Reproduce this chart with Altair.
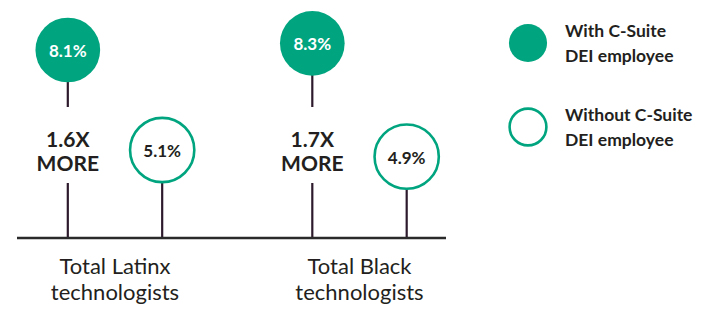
import altair as alt
import pandas as pd

# ---- data ----
groups = ["Total Latinx technologists", "Total Black technologists"]
with_vals = [8.1, 8.3]
without_vals = [5.1, 4.9]
multipliers = ["1.6X", "1.7X"]
legend_labels = ["With C-Suite\nDEI employee", "Without C-Suite\nDEI employee"]

GREEN = "#00a57f"
STEM = "#2d1a2c"
DARK = "#231f20"
FONT = "Lato"

OFF = 0.193
X0, X1 = -0.4008, 1.3538
BASE = 2.46      # value at baseline
TOP = 9.36       # value at top of plot
GAP_TOP = 6.39
GAP_BOTTOM = 4.11
MID = 5.2

rows = []
for i, g in enumerate(groups):
    rows.append({"grp": g, "x": i - OFF, "v": with_vals[i], "kind": "with",
                 "lbl": f"{with_vals[i]}%", "mtext": multipliers[i] + "\nMORE",
                 "gt": GAP_TOP, "gb": GAP_BOTTOM, "base": BASE, "mid": MID})
    rows.append({"grp": g, "x": i + OFF, "v": without_vals[i], "kind": "without",
                 "lbl": f"{without_vals[i]}%", "mtext": "",
                 "gt": GAP_TOP, "gb": GAP_BOTTOM, "base": BASE, "mid": MID})
df = pd.DataFrame(rows)
df_with = df[df.kind == "with"]
df_without = df[df.kind == "without"]

cat_df = pd.DataFrame({"x": [0, 1],
                       "label": [g.replace(" technologists", "\ntechnologists") for g in groups]})
base_df = pd.DataFrame({"x0": [X0], "x1": [X1], "y": [BASE]})

xs = alt.Scale(domain=[X0, X1], nice=False, zero=False)
ys = alt.Scale(domain=[BASE, TOP], nice=False, zero=False)

X = alt.X("x:Q", scale=xs, axis=None)
Y = alt.Y("v:Q", scale=ys, axis=None)

stem_without = alt.Chart(df_without).mark_rule(color=STEM, strokeWidth=2.2).encode(
    x=X, y=Y, y2="base:Q")
stem_with_top = alt.Chart(df_with).mark_rule(color=STEM, strokeWidth=2.2).encode(
    x=X, y=Y, y2="gt:Q")
stem_with_bot = alt.Chart(df_with).mark_rule(color=STEM, strokeWidth=2.2).encode(
    x=X, y=alt.Y("gb:Q", scale=ys, axis=None), y2="base:Q")

baseline = alt.Chart(base_df).mark_rule(color="#2a2a2a", strokeWidth=2.5).encode(
    x=alt.X("x0:Q", scale=xs, axis=None), x2="x1:Q", y=alt.Y("y:Q", scale=ys, axis=None))

circ_with = alt.Chart(df_with).mark_point(
    shape="circle", filled=True, fill=GREEN, opacity=1, size=4185, strokeWidth=0
).encode(x=X, y=Y)
circ_without = alt.Chart(df_without).mark_point(
    shape="circle", filled=True, fill="white", stroke=GREEN, strokeWidth=2.6,
    opacity=1, size=4128
).encode(x=X, y=Y)

val_with = alt.Chart(df_with).mark_text(
    font=FONT, fontWeight="bold", fontSize=17, color="white", baseline="middle", dy=2
).encode(x=X, y=Y, text="lbl:N")
val_without = alt.Chart(df_without).mark_text(
    font=FONT, fontWeight="bold", fontSize=17, color=DARK, baseline="middle", dy=2
).encode(x=X, y=Y, text="lbl:N")

mult = alt.Chart(df_with).mark_text(
    font=FONT, fontWeight="bold", fontSize=21, color=DARK, lineBreak="\n",
    lineHeight=24.5, baseline="middle", dy=-6
).encode(x=X, y=alt.Y("mid:Q", scale=ys, axis=None), text="mtext:N")

cats = alt.Chart(cat_df).mark_text(
    font=FONT, fontSize=22, color=DARK, lineBreak="\n", lineHeight=26,
    baseline="alphabetic"
).encode(x=X, y=alt.value(266), text="label:N")

leg1 = pd.DataFrame({"label": [legend_labels[0]]})
leg2 = pd.DataFrame({"label": [legend_labels[1]]})
leg_fill = alt.Chart(leg1).mark_point(
    shape="circle", filled=True, fill=GREEN, opacity=1, size=1452, strokeWidth=0
).encode(x=alt.value(511), y=alt.value(35))
leg_open = alt.Chart(leg2).mark_point(
    shape="circle", filled=True, fill="white", stroke=GREEN, strokeWidth=2.6,
    opacity=1, size=1353
).encode(x=alt.value(511), y=alt.value(119))
leg_text1 = alt.Chart(leg1).mark_text(
    font=FONT, fontWeight="bold", fontSize=17.5, color=DARK, lineBreak="\n",
    lineHeight=25, align="left", baseline="middle", dy=-11
).encode(x=alt.value(548), y=alt.value(35), text="label:N")
leg_text2 = alt.Chart(leg2).mark_text(
    font=FONT, fontWeight="bold", fontSize=17.5, color=DARK, lineBreak="\n",
    lineHeight=25, align="left", baseline="middle", dy=-11
).encode(x=alt.value(548), y=alt.value(119), text="label:N")

chart = alt.layer(
    stem_without, stem_with_top, stem_with_bot, baseline,
    circ_with, circ_without, val_with, val_without, mult, cats,
    leg_fill, leg_open, leg_text1, leg_text2
).properties(
    width=429, height=230,
    background="white",
    autosize=alt.AutoSizeParams(type="none"),
    padding={"left": 9, "top": 0, "right": 248, "bottom": 67},
).configure_view(stroke=None, strokeWidth=0)

chart.save("out.html", embed_options={"renderer": "svg", "actions": False})
